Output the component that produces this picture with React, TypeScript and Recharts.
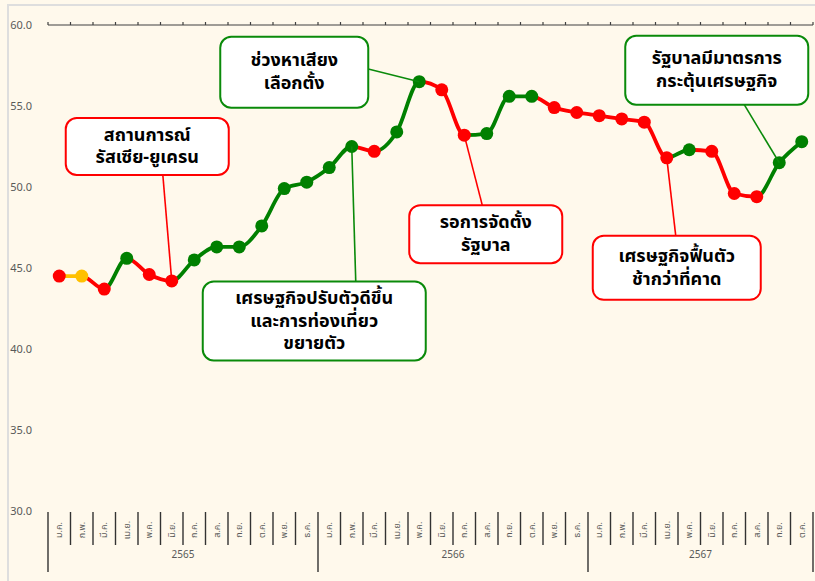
import { LineChart, Line, XAxis, YAxis, ReferenceDot } from 'recharts';

const months = [
  'ม.ค.', 'ก.พ.', 'มี.ค.', 'เม.ย.', 'พ.ค.', 'มิ.ย.', 'ก.ค.', 'ส.ค.', 'ก.ย.', 'ต.ค.', 'พ.ย.', 'ธ.ค.',
  'ม.ค.', 'ก.พ.', 'มี.ค.', 'เม.ย.', 'พ.ค.', 'มิ.ย.', 'ก.ค.', 'ส.ค.', 'ก.ย.', 'ต.ค.', 'พ.ย.', 'ธ.ค.',
  'ม.ค.', 'ก.พ.', 'มี.ค.', 'เม.ย.', 'พ.ค.', 'มิ.ย.', 'ก.ค.', 'ส.ค.', 'ก.ย.', 'ต.ค.',
];
const years = [
  '2565', '2565', '2565', '2565', '2565', '2565', '2565', '2565', '2565', '2565', '2565', '2565',
  '2566', '2566', '2566', '2566', '2566', '2566', '2566', '2566', '2566', '2566', '2566', '2566',
  '2567', '2567', '2567', '2567', '2567', '2567', '2567', '2567', '2567', '2567',
];
const values = [
  44.5, 44.5, 43.7, 45.6, 44.6, 44.2, 45.5, 46.3, 46.3, 47.6, 49.9, 50.3,
  51.2, 52.5, 52.2, 53.4, 56.5, 56.0, 53.2, 53.3, 55.6, 55.6, 54.9, 54.6,
  54.4, 54.2, 54.0, 51.8, 52.3, 52.2, 49.6, 49.4, 51.5, 52.8,
];
// u = up, d = down, f = flat
const trend = [
  'd', 'f', 'd', 'u', 'd', 'd', 'u', 'u', 'u', 'u', 'u', 'u',
  'u', 'u', 'd', 'u', 'u', 'd', 'd', 'u', 'u', 'u', 'd', 'd',
  'd', 'd', 'd', 'd', 'u', 'd', 'd', 'd', 'u', 'u',
];
const yTicks = [30, 35, 40, 45, 50, 55, 60];

const notes = [
  { index: 5, color: 'red', lines: ['สถานการณ์', 'รัสเซีย-ยูเครน'], box: [-106, -163, 163, 57], from: [-9, -107] },
  { index: 16, color: 'green', lines: ['ช่วงหาเสียง', 'เลือกตั้ง'], box: [-199, -45, 148, 71], from: [-52, -13] },
  { index: 13, color: 'green', lines: ['เศรษฐกิจปรับตัวดีขึ้น', 'และการท่องเที่ยว', 'ขยายตัว'], box: [-149, 135, 223, 79], from: [4, 135] },
  { index: 18, color: 'red', lines: ['รอการจัดตั้ง', 'รัฐบาล'], box: [-55, 70, 153, 58], from: [18, 70] },
  { index: 27, color: 'red', lines: ['เศรษฐกิจฟื้นตัว', 'ช้ากว่าที่คาด'], box: [-74, 78, 168, 64], from: [9, 78] },
  { index: 32, color: 'green', lines: ['รัฐบาลมีมาตรการ', 'กระตุ้นเศรษฐกิจ'], box: [-154, -127, 183, 69], from: [-35, -58] },
];

const COLORS: Record<string, string> = { u: '#008000', d: '#ff0000', f: '#ffc000' };
const NOTE_COLORS: Record<string, string> = { red: '#ff0000', green: '#0a8a0a' };

const W = 807;
const H = 576;
const LEFT = 40;
const RIGHT = 2;
const PLOT_W = W - LEFT - RIGHT;
const STEP = PLOT_W / months.length;
const THAI = "'Noto Sans Thai', 'Noto Sans', Tahoma, sans-serif";

const data = values.map((v, i) => ({ idx: i, value: v, month: months[i], year: years[i], trend: trend[i] }));
const halfTicks = months.map((_, i) => i - 0.5).concat([months.length - 0.5]);

const NoLabel = () => <g />;

const MonthTick = (props: any) => {
  const { x, y, index } = props;
  const i = index;
  const yearStart = i === 0 || years[i] !== years[i - 1];
  const left = x - STEP / 2;
  let yearLabel = null;
  if (yearStart) {
    let n = 0;
    while (years[i + n] === years[i]) n++;
    yearLabel = (
      <text x={x + ((n - 1) * STEP) / 2} y={y + 44} textAnchor="middle" dominantBaseline="central" fontSize={10} fill="#595959" fontFamily={THAI}>
        {years[i]}
      </text>
    );
  }
  const last = i === months.length - 1;
  return (
    <g>
      <line x1={left} x2={left} y1={y + 1} y2={y + (yearStart ? 61 : 34)} stroke="#333333" strokeWidth={1.4} />
      {last && <line x1={x + STEP / 2} x2={x + STEP / 2} y1={y + 1} y2={y + 61} stroke="#333333" strokeWidth={1.4} />}
      <text
        x={x}
        y={y + 19}
        transform={`rotate(-90 ${x} ${y + 19})`}
        textAnchor="middle"
        dominantBaseline="central"
        fontSize={9}
        fill="#595959"
        fontFamily={THAI}
      >
        {months[i]}
      </text>
      {yearLabel}
    </g>
  );
};

const TrendDot = (props: any) => {
  const { cx, cy, index } = props;
  return <circle key={`dot-${index}`} cx={cx} cy={cy} r={6.5} fill={COLORS[trend[index]]} />;
};

const makeNote = (note: (typeof notes)[number]) => (props: any) => {
  const { cx, cy } = props;
  const c = NOTE_COLORS[note.color];
  const [bx, by, bw, bh] = note.box;
  const lh = 22.5;
  const midY = cy + by + bh / 2 - ((note.lines.length - 1) * lh) / 2;
  return (
    <g>
      <line x1={cx + note.from[0]} y1={cy + note.from[1]} x2={cx} y2={cy} stroke={c} strokeWidth={1.6} />
      <rect x={cx + bx} y={cy + by} width={bw} height={bh} rx={11} ry={11} fill="#ffffff" stroke={c} strokeWidth={2} />
      {note.lines.map((t, k) => (
        <text
          key={k}
          x={cx + bx + bw / 2}
          y={midY + k * lh}
          textAnchor="middle"
          dominantBaseline="central"
          fontSize={18}
          fontWeight={700}
          fill="#000000"
          fontFamily={THAI}
        >
          {t}
        </text>
      ))}
    </g>
  );
};

const App = () => {
  const n = values.length - 1;
  const stops: JSX.Element[] = [];
  for (let i = 1; i <= n; i++) {
    const c = COLORS[trend[i]];
    stops.push(<stop key={`a${i}`} offset={`${((i - 1) / n) * 100}%`} stopColor={c} />);
    stops.push(<stop key={`b${i}`} offset={`${(i / n) * 100}%`} stopColor={c} />);
  }
  return (
    <div style={{ position: 'absolute', left: 0, top: 0, width: 815, height: 581, overflow: 'hidden', background: '#fff9ec' }}>
      <div style={{ position: 'absolute', left: 7, top: 4, width: 900, height: 900, border: '2px solid #dedede' }} />
      <div style={{ position: 'absolute', left: 8, top: 5 }}>
        <LineChart width={W} height={H} data={data} margin={{ top: 0, right: RIGHT, bottom: 0, left: 0 }}>
          <defs>
            <linearGradient id="trendStroke" x1="0" y1="0" x2="1" y2="0">
              {stops}
            </linearGradient>
          </defs>
          <XAxis
            xAxisId="top"
            orientation="top"
            dataKey="idx"
            type="number"
            domain={[-0.5, months.length - 0.5]}
            ticks={halfTicks}
            interval={0}
            tick={<NoLabel />}
            tickSize={3}
            height={20}
            axisLine={{ stroke: '#404040', strokeWidth: 1.2 }}
            tickLine={{ stroke: '#404040', strokeWidth: 1.2 }}
          />
          <XAxis
            dataKey="idx"
            type="number"
            domain={[-0.5, months.length - 0.5]}
            ticks={months.map((_, i) => i)}
            interval={0}
            axisLine={false}
            tickLine={false}
            tickSize={0}
            tickMargin={0}
            height={70}
            tick={<MonthTick />}
          />
          <YAxis
            domain={[30, 60]}
            ticks={yTicks}
            width={LEFT}
            axisLine={false}
            tickLine={false}
            tickSize={0}
            tickMargin={16}
            tickFormatter={(v: number) => v.toFixed(1)}
            tick={{ fontSize: 11, fill: '#595959', fontFamily: THAI }}
          />
          <Line
            dataKey="value"
            type="monotone"
            stroke="url(#trendStroke)"
            strokeWidth={3.8}
            dot={TrendDot}
            activeDot={false}
            isAnimationActive={false}
          />
          {notes.map((note, k) => (
            <ReferenceDot key={k} x={note.index} y={values[note.index]} r={0} shape={makeNote(note)} ifOverflow="visible" />
          ))}
        </LineChart>
      </div>
    </div>
  );
};

export default App;
